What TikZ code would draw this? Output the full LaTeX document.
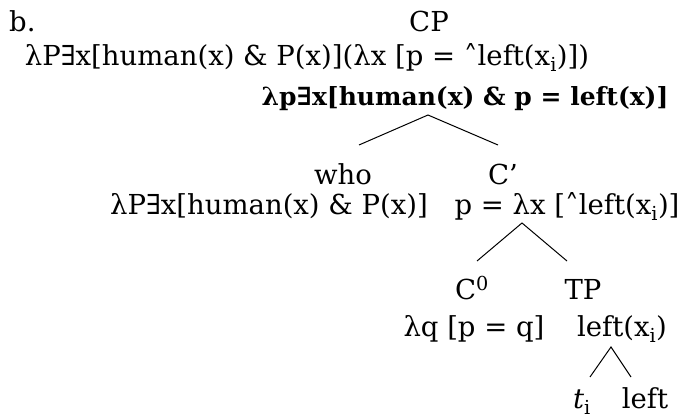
\documentclass[tikz,border=0pt]{standalone}
\usepackage{fontspec}
\setmainfont{DejaVu Serif}
\usepackage{tikz}
\usetikzlibrary{positioning}

\newcommand{\up}{˄}

\begin{document}
\begin{tikzpicture}[x=1pt, y=-1pt,
    lbl/.style={inner sep=0pt, anchor=base, font=\fontsize{27.5}{32}\selectfont},
    sem/.style={lbl, font=\fontsize{25}{30}\selectfont\bfseries},
    branch/.style={line width=1pt},
]
\useasboundingbox (0,0) rectangle (681,419);

% Root
\node[lbl, anchor=base west] (ex) at (9,32) {b.};
\node[lbl] (CP) at (429,32) {CP};
\node[lbl] (CPsem) at (307,66) {λP∃x[human(x) \& P(x)](λx [p = \up left(x\textsubscript{i})])};
\node[sem] (CPval) at (465,106) {λp∃x[human(x) \& p = left(x)]};

% Spec and C'
\node[lbl] (who) at (343,185) {who};
\node[lbl] (whosem) at (269,215) {λP∃x[human(x) \& P(x)]};
\node[lbl] (Cbar) at (503,185) {C’};
\node[lbl] (Cbarsem) at (567,215) {p = λx [\up left(x\textsubscript{i})]};

% C0 and TP
\node[lbl] (C0) at (472,300) {C\textsuperscript{0}};
\node[lbl] (C0sem) at (474,337) {λq [p = q]};
\node[lbl] (TP) at (583,300) {TP};
\node[lbl] (TPsem) at (622,337) {left(x\textsubscript{i})};

% Leaves
\node[lbl] (trace) at (582,409) {\textit{t}\textsubscript{i}};
\node[lbl] (verb) at (645,409) {left};

% Branch points
\coordinate (top1) at (428,115);
\coordinate (foot1a) at (359,145);
\coordinate (foot1b) at (498,145);
\coordinate (top2) at (522,223);
\coordinate (foot2a) at (477,261);
\coordinate (foot2b) at (567,261);
\coordinate (top3) at (611,347);
\coordinate (foot3a) at (590,377);
\coordinate (foot3b) at (631,377);

% Branches
\foreach \i in {1,2,3}
    \draw[branch] (foot\i a) -- (top\i) -- (foot\i b);

\end{tikzpicture}
\end{document}
